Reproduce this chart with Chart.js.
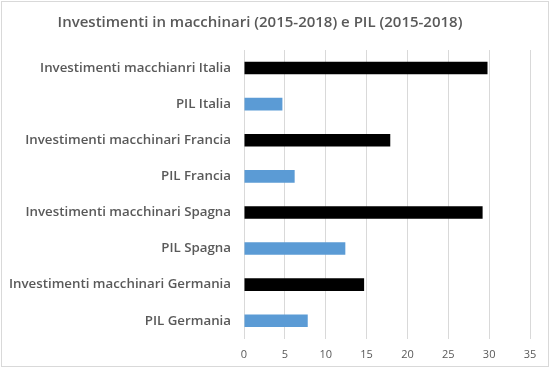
<!DOCTYPE html>
<html><head><meta charset="utf-8">
<script src="https://cdn.jsdelivr.net/npm/chart.js@4"></script>
<style>
html,body{margin:0;padding:0;background:#fff;}
#wrap{position:relative;width:550px;height:367px;}
#frame{position:absolute;left:1px;top:1px;width:546px;height:364px;border:1px solid #d9d9d9;pointer-events:none;}
canvas{display:block;}
</style></head>
<body>
<div id="wrap"><canvas id="c" width="550" height="367"></canvas><div id="frame"></div></div>
<script>
const titleText = "Investimenti in macchinari (2015-2018) e PIL (2015-2018)";
const categories = [
  "Investimenti macchianri Italia",
  "PIL Italia",
  "Investimenti macchinari Francia",
  "PIL Francia",
  "Investimenti macchinari Spagna",
  "PIL Spagna",
  "Investimenti macchinari Germania",
  "PIL Germania"
];
const values = [29.8, 4.7, 17.9, 6.2, 29.2, 12.4, 14.7, 7.8];
const xTicks = [0, 5, 10, 15, 20, 25, 30, 35];

const FONT = "'Open Sans', sans-serif";
const barColors = categories.map(c => c.startsWith("PIL") ? "#5B9BD5" : "#000000");

const titlePlugin = {
  id: 'customTitle',
  afterDraw(chart) {
    const ctx = chart.ctx;
    ctx.save();
    ctx.font = "600 15px " + FONT;
    ctx.fillStyle = "#595959";
    ctx.textAlign = "center";
    ctx.textBaseline = "middle";
    ctx.fillText(titleText, 260, 23);
    ctx.restore();
  }
};

new Chart(document.getElementById('c'), {
  type: 'bar',
  data: {
    labels: categories,
    datasets: [{
      data: values,
      backgroundColor: barColors,
      borderWidth: 0,
      categoryPercentage: 1,
      barPercentage: 0.35
    }]
  },
  options: {
    indexAxis: 'y',
    responsive: false,
    animation: false,
    layout: { padding: { top: 50, right: 20, left: 0, bottom: -3 } },
    plugins: { legend: { display: false }, tooltip: { enabled: false } },
    scales: {
      x: {
        min: 0, max: 35,
        afterBuildTicks(scale) { scale.ticks = xTicks.map(v => ({ value: v })); },
        grid: { color: '#d9d9d9', drawTicks: false },
        border: { display: false },
        ticks: { color: '#595959', font: { family: FONT, size: 11 }, padding: 9 }
      },
      y: {
        grid: { display: false },
        border: { display: false },
        afterFit(scale) { scale.width = 244; },
        ticks: { color: '#595959', font: { family: FONT, size: 13.3, weight: '600' }, padding: 5 }
      }
    }
  },
  plugins: [titlePlugin]
});
</script>
</body></html>
